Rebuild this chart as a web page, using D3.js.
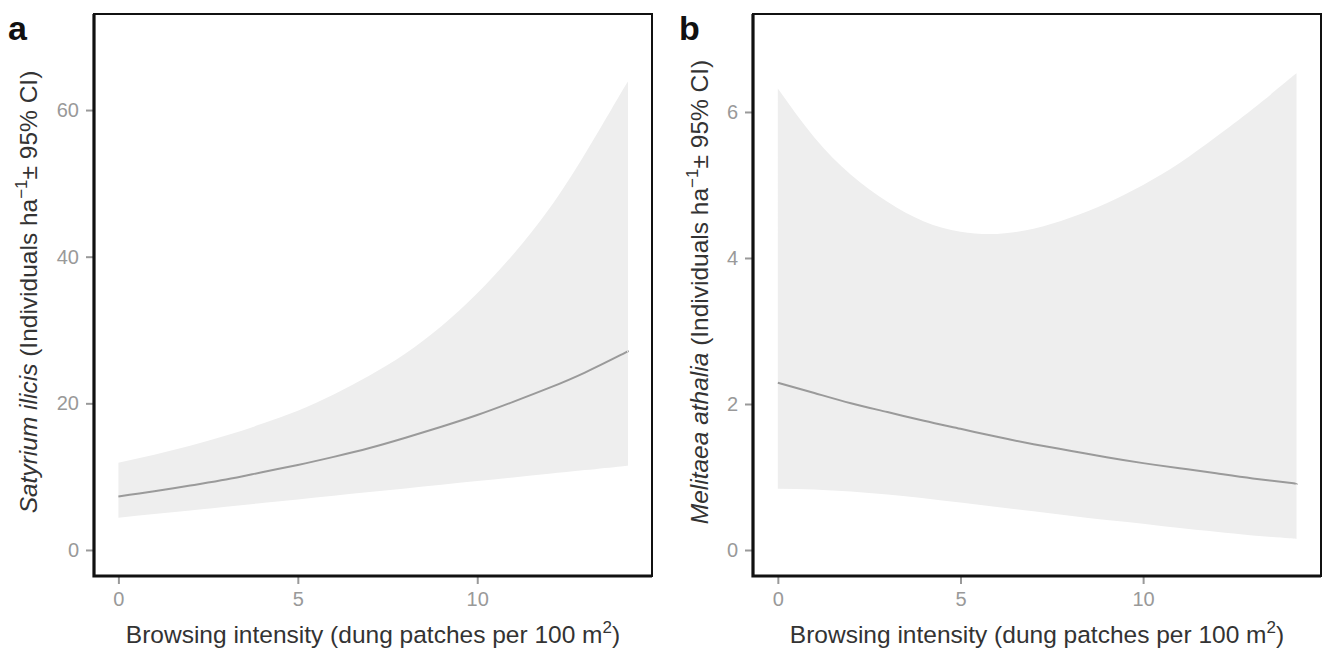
<!DOCTYPE html>
<html>
<head>
<meta charset="utf-8">
<script src="https://cdn.jsdelivr.net/npm/d3@7"></script>
<style>
  html, body { margin: 0; padding: 0; background: #fff; }
  svg { display: block; font-family: "Liberation Sans", Arial, sans-serif; }
</style>
</head>
<body>
<svg id="chart" width="1323" height="651"></svg>
<script>
// ---- Data ----
const browsing = [0, 1, 2, 3, 4, 5, 6, 7, 8, 9, 10, 11, 12, 13, 14, 14.2];

const satyriumFit   = [7.3, 8.0, 8.8, 9.6, 10.6, 11.6, 12.7, 13.9, 15.3, 16.8, 18.4, 20.2, 22.1, 24.2, 26.6, 27.1];
const satyriumLower = [4.4, 4.9, 5.4, 5.9, 6.4, 6.9, 7.4, 7.9, 8.4, 8.9, 9.4, 9.9, 10.4, 10.9, 11.4, 11.5];
const satyriumUpper = [11.9, 13.0, 14.2, 15.6, 17.2, 19.0, 21.2, 23.8, 26.8, 30.5, 35.0, 40.3, 46.5, 54.0, 62.3, 63.8];

const melitaeaFit   = [2.29, 2.15, 2.01, 1.89, 1.77, 1.66, 1.55, 1.45, 1.36, 1.27, 1.19, 1.12, 1.05, 0.98, 0.92, 0.90];
const melitaeaLower = [0.84, 0.83, 0.80, 0.76, 0.71, 0.65, 0.59, 0.53, 0.47, 0.41, 0.36, 0.30, 0.25, 0.20, 0.16, 0.15];
const melitaeaUpper = [6.32, 5.65, 5.14, 4.77, 4.50, 4.36, 4.33, 4.40, 4.55, 4.75, 5.00, 5.30, 5.66, 6.04, 6.45, 6.53];

const xTicks = [0, 5, 10];
const yTicksA = [0, 20, 40, 60];
const yTicksB = [0, 2, 4, 6];

const panelLabels = ["a", "b"];
const speciesNames = ["Satyrium ilicis", "Melitaea athalia"];

// ---- Layout ----
const svg = d3.select("#chart");
const panels = [
  { label: panelLabels[0], species: speciesNames[0], fit: satyriumFit, lo: satyriumLower, hi: satyriumUpper,
    yTicks: yTicksA, yDomain: [-3.55, 73.1], left: 94, right: 652, labelX: 8, titleX: 37 },
  { label: panelLabels[1], species: speciesNames[1], fit: melitaeaFit, lo: melitaeaLower, hi: melitaeaUpper,
    yTicks: yTicksB, yDomain: [-0.356, 7.342], left: 753, right: 1321, labelX: 679, titleX: 708 }
];
const plotTop = 14, plotBottom = 576;
const xDomain = [-0.68, 14.87];

panels.forEach(p => {
  const x = d3.scaleLinear().domain(xDomain).range([p.left, p.right]);
  const y = d3.scaleLinear().domain(p.yDomain).range([plotBottom, plotTop]);
  const g = svg.append("g");

  const rows = browsing.map((b, i) => ({ b, fit: p.fit[i], lo: p.lo[i], hi: p.hi[i] }));

  g.append("path")
    .datum(rows)
    .attr("fill", "#eeeeee")
    .attr("d", d3.area().x(d => x(d.b)).y0(d => y(d.lo)).y1(d => y(d.hi)).curve(d3.curveNatural));

  g.append("path")
    .datum(rows)
    .attr("fill", "none")
    .attr("stroke", "#9a9a9a")
    .attr("stroke-width", 2)
    .attr("d", d3.line().x(d => x(d.b)).y(d => y(d.fit)).curve(d3.curveNatural));

  // axes
  const xAxis = g.append("g").attr("transform", `translate(0,${plotBottom})`)
    .call(d3.axisBottom(x).tickValues(xTicks).tickSize(8).tickPadding(8).tickFormat(d3.format("d")));
  const yAxis = g.append("g").attr("transform", `translate(${p.left},0)`)
    .call(d3.axisLeft(y).tickValues(p.yTicks).tickSize(8).tickPadding(7).tickFormat(d3.format("d")));
  [xAxis, yAxis].forEach(a => {
    a.select(".domain").remove();
    a.selectAll(".tick line").attr("stroke", "#999999").attr("stroke-width", 2);
    a.selectAll(".tick text").attr("fill", "#999999").style("font-size", "20px")
      .style("font-family", "'Liberation Sans', Arial, sans-serif");
  });

  // panel border
  g.append("rect")
    .attr("x", p.left).attr("y", plotTop)
    .attr("width", p.right - p.left).attr("height", plotBottom - plotTop)
    .attr("fill", "none").attr("stroke", "#111").attr("stroke-width", 2);
  g.append("path")
    .attr("d", `M${p.left},${plotTop}V${plotBottom}H${p.right}`)
    .attr("fill", "none").attr("stroke", "#111").attr("stroke-width", 3.2);

  // panel label
  g.append("text").attr("x", p.labelX).attr("y", 40)
    .style("font-size", "34px").style("font-weight", "bold").attr("fill", "#111")
    .text(p.label);

  // x title
  const xt = g.append("text")
    .attr("x", (p.left + p.right) / 2).attr("y", 643)
    .attr("text-anchor", "middle").attr("fill", "#333")
    .style("font-size", "24.5px");
  xt.append("tspan").text("Browsing intensity (dung patches per 100 m");
  xt.append("tspan").attr("dy", -10).style("font-size", "17px").text("2");
  xt.append("tspan").attr("dy", 10).text(")");

  // y title
  const yt = g.append("text")
    .attr("transform", `translate(${p.titleX},${(plotTop + plotBottom) / 2 - 3}) rotate(-90)`)
    .attr("text-anchor", "middle").attr("fill", "#333")
    .style("font-size", "24.5px");
  yt.append("tspan").style("font-style", "italic").text(p.species);
  yt.append("tspan").text(" (Individuals ha");
  yt.append("tspan").attr("dy", -10).style("font-size", "17px").text("\u22121");
  yt.append("tspan").attr("dy", 10).text("\u00b1 95% CI)");
});
</script>
</body>
</html>
